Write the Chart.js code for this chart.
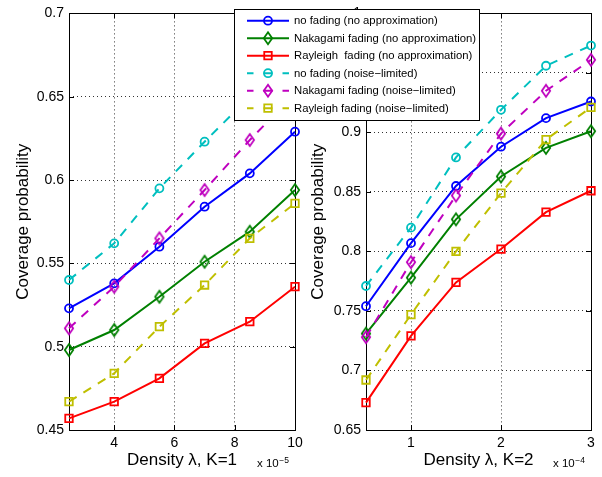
<!DOCTYPE html>
<html><head><meta charset="utf-8">
<script src="https://cdn.jsdelivr.net/npm/chart.js@4.4.1/dist/chart.umd.min.js"></script>
<style>
html,body{margin:0;padding:0;background:#fff;}
#wrap{position:relative;width:602px;height:477px;overflow:hidden;}
canvas{position:absolute;left:0;top:0;}
</style>
</head><body>
<div id="wrap"><canvas id="c1" width="602" height="477"></canvas><canvas id="c2" width="602" height="477"></canvas></div>
<script>
// ---------- data ----------
const seriesNames = [
  'no fading (no approximation)',
  'Nakagami fading (no approximation)',
  'Rayleigh  fading (no approximation)',
  'no fading (noise\u2212limited)',
  'Nakagami fading (noise\u2212limited)',
  'Rayleigh fading (noise\u2212limited)'
];

// Left panel, K=1 (density in units of 1e-5)
const densityK1 = [2.5, 4, 5.5, 7, 8.5, 10];
const k1NoFading       = [0.523, 0.538, 0.560, 0.584, 0.604, 0.629];
const k1Nakagami       = [0.498, 0.510, 0.530, 0.551, 0.569, 0.594];
const k1Rayleigh       = [0.457, 0.467, 0.481, 0.502, 0.515, 0.536];
const k1NoFadingNL     = [0.540, 0.562, 0.595, 0.623, 0.650, 0.676];
const k1NakagamiNL     = [0.511, 0.536, 0.565, 0.594, 0.624, 0.652];
const k1RayleighNL     = [0.467, 0.484, 0.512, 0.537, 0.565, 0.586];
const k1XTicks = [4, 6, 8, 10];
const k1YTicks = [0.45, 0.5, 0.55, 0.6, 0.65, 0.7];

// Right panel, K=2 (density in units of 1e-4)
const densityK2 = [0.5, 1, 1.5, 2, 2.5, 3];
const k2NoFading       = [0.754, 0.807, 0.855, 0.888, 0.912, 0.926];
const k2Nakagami       = [0.731, 0.778, 0.827, 0.863, 0.887, 0.901];
const k2Rayleigh       = [0.673, 0.729, 0.774, 0.802, 0.833, 0.851];
const k2NoFadingNL     = [0.771, 0.820, 0.879, 0.919, 0.956, 0.973];
const k2NakagamiNL     = [0.728, 0.791, 0.847, 0.899, 0.935, 0.961];
const k2RayleighNL     = [0.692, 0.747, 0.800, 0.849, 0.894, 0.921];
const k2XTicks = [1, 2, 3];
const k2YTicks = [0.65, 0.7, 0.75, 0.8, 0.85, 0.9, 0.95, 1];

// ---------- styles ----------
const seriesColors  = ['#0000ff', '#008000', '#ff0000', '#00bfbf', '#bf00bf', '#bfbf00'];
const seriesMarkers = ['circle', 'diamond', 'square', 'circle', 'diamond', 'square'];
const seriesDashed  = [false, false, false, true, true, true];
const FONT = "'Liberation Sans', Arial, Helvetica, sans-serif";
const DASH = [9, 8];

function diamondCanvas(color) {
  const c = document.createElement('canvas');
  c.width = 14; c.height = 18;
  const g = c.getContext('2d');
  g.strokeStyle = color; g.lineWidth = 1.8;
  g.beginPath();
  g.moveTo(7, 9 - 6); g.lineTo(7 + 4.2, 9); g.lineTo(7, 9 + 6); g.lineTo(7 - 4.2, 9); g.closePath();
  g.stroke();
  return c;
}
function pointStyleFor(i) {
  const m = seriesMarkers[i];
  if (m === 'circle') return {style: 'circle', r: 4};
  if (m === 'square') return {style: 'rect', r: 5.3};
  return {style: diamondCanvas(seriesColors[i]), r: 6};
}

function fmt(v) { return String(+(+v).toFixed(2)); }

const boxPlugin = {
  id: 'box',
  beforeDatasetsDraw(chart) {
    const {ctx, chartArea: a, scales} = chart;
    ctx.save();
    ctx.strokeStyle = '#000'; ctx.lineWidth = 1;
    ctx.strokeRect(Math.round(a.left) + 0.5, Math.round(a.top) + 0.5, Math.round(a.right - a.left), Math.round(a.bottom - a.top));
    ctx.beginPath();
    scales.x.ticks.forEach(t => {
      const x = Math.round(scales.x.getPixelForValue(t.value)) + 0.5;
      ctx.moveTo(x, a.bottom); ctx.lineTo(x, a.bottom - 5);
      ctx.moveTo(x, a.top); ctx.lineTo(x, a.top + 5);
    });
    scales.y.ticks.forEach(t => {
      const y = Math.round(scales.y.getPixelForValue(t.value)) + 0.5;
      ctx.moveTo(a.left, y); ctx.lineTo(a.left + 5, y);
      ctx.moveTo(a.right, y); ctx.lineTo(a.right - 5, y);
    });
    ctx.stroke();
    ctx.restore();
  }
};

function expPlugin(exp) {
  return {
    id: 'exp',
    afterDraw(chart) {
      const {ctx, chartArea: a} = chart;
      ctx.save();
      ctx.fillStyle = '#000';
      ctx.textBaseline = 'alphabetic';
      ctx.textAlign = 'left';
      ctx.font = '11.5px ' + FONT;
      const base = 'x 10';
      const w = ctx.measureText(base).width;
      const x0 = a.right - 38;
      ctx.fillText(base, x0, 466.5);
      ctx.font = '8.5px ' + FONT;
      ctx.fillText(exp, x0 + w + 0.5, 462.5);
      ctx.restore();
    }
  };
}

function drawLegendMarker(ctx, i, x, y) {
  ctx.save();
  ctx.strokeStyle = seriesColors[i];
  ctx.lineWidth = 1.8;
  ctx.setLineDash([]);
  ctx.beginPath();
  const m = seriesMarkers[i];
  if (m === 'circle') ctx.arc(x, y, 4, 0, Math.PI * 2);
  else if (m === 'square') ctx.rect(x - 3.75, y - 3.75, 7.5, 7.5);
  else { ctx.moveTo(x, y - 6); ctx.lineTo(x + 4.2, y); ctx.lineTo(x, y + 6); ctx.lineTo(x - 4.2, y); ctx.closePath(); }
  ctx.stroke();
  ctx.restore();
}

const legendPlugin = {
  id: 'legendBox',
  afterDraw(chart) {
    const ctx = chart.ctx;
    const L = 234.5, T = 9.5, R = 479.5, B = 120.5;
    ctx.save();
    ctx.fillStyle = '#fff';
    ctx.fillRect(L, T, R - L, B - T);
    ctx.strokeStyle = '#000'; ctx.lineWidth = 1;
    ctx.strokeRect(L, T, R - L, B - T);
    for (let i = 0; i < seriesNames.length; i++) {
      const y = 20.7 + i * 17.5;
      ctx.strokeStyle = seriesColors[i];
      ctx.lineWidth = 2;
      ctx.beginPath();
      if (seriesDashed[i]) {
        ctx.moveTo(247, y); ctx.lineTo(253.5, y);
        ctx.moveTo(263.5, y); ctx.lineTo(272.5, y);
        ctx.moveTo(282.5, y); ctx.lineTo(289, y);
      } else {
        ctx.moveTo(247, y); ctx.lineTo(289, y);
      }
      ctx.stroke();
      drawLegendMarker(ctx, i, 268, y);
      ctx.fillStyle = '#000';
      ctx.font = '11.3px ' + FONT;
      ctx.textBaseline = 'middle';
      ctx.textAlign = 'left';
      ctx.fillText(seriesNames[i], 294, y + 0.5);
    }
    ctx.restore();
  }
};

function makePanel(id, xs, series, xTicks, yTicks, xmin, xmax, ymin, ymax, pad, yWidth, yTitlePad, xTitle, exp, extra) {
  const datasets = series.map((vals, i) => {
    const ps = pointStyleFor(i);
    return {
      label: seriesNames[i],
      data: xs.map((x, k) => ({x: x, y: vals[k]})),
      borderColor: seriesColors[i],
      backgroundColor: 'rgba(0,0,0,0)',
      borderWidth: 2,
      borderDash: seriesDashed[i] ? DASH : [],
      pointStyle: ps.style,
      pointRadius: ps.r,
      pointBorderWidth: 1.8,
      pointBorderColor: seriesColors[i],
      pointBackgroundColor: 'rgba(0,0,0,0)',
      tension: 0,
      clip: false,
      order: series.length - i
    };
  });
  const tickFont = {family: FONT, size: 14};
  return new Chart(document.getElementById(id), {
    type: 'line',
    data: {datasets},
    options: {
      responsive: false,
      animation: false,
      devicePixelRatio: 1,
      layout: {padding: pad},
      plugins: {legend: {display: false}, tooltip: {enabled: false}},
      scales: {
        x: {
          type: 'linear', min: xmin, max: xmax,
          afterBuildTicks: s => { s.ticks = xTicks.map(v => ({value: v})); },
          afterFit: s => { s.height = 47; },
          ticks: {color: '#000', font: tickFont, padding: 5, maxRotation: 0, autoSkip: false, callback: v => fmt(v)},
          grid: {color: 'rgba(0,0,0,0.8)', lineWidth: 1, drawTicks: false},
          border: {display: false, dash: [1, 3]},
          title: {display: true, text: xTitle, color: '#000', font: {family: FONT, size: 17}, padding: {top: 0, bottom: 6}}
        },
        y: {
          type: 'linear', min: ymin, max: ymax,
          afterBuildTicks: s => { s.ticks = yTicks.map(v => ({value: v})); },
          afterFit: s => { s.width = yWidth; },
          ticks: {color: '#000', font: tickFont, padding: 5, autoSkip: false, callback: v => fmt(v)},
          grid: {color: 'rgba(0,0,0,0.8)', lineWidth: 1, drawTicks: false},
          border: {display: false, dash: [1, 3]},
          title: {display: true, text: 'Coverage probability', color: '#000', font: {family: FONT, size: 17}, padding: {top: yTitlePad, bottom: 0}}
        }
      }
    },
    plugins: [boxPlugin, expPlugin(exp)].concat(extra)
  });
}

makePanel('c1', densityK1,
  [k1NoFading, k1Nakagami, k1Rayleigh, k1NoFadingNL, k1NakagamiNL, k1RayleighNL],
  k1XTicks, k1YTicks, 2.5, 10, 0.45, 0.7,
  {left: 0, right: 307, top: 10, bottom: 0}, 69, 13,
  'Density \u03bb, K=1', '\u22125', []);

makePanel('c2', densityK2,
  [k2NoFading, k2Nakagami, k2Rayleigh, k2NoFadingNL, k2NakagamiNL, k2RayleighNL],
  k2XTicks, k2YTicks, 0.5, 3, 0.65, 1.0,
  {left: 300, right: 11, top: 10, bottom: 0}, 66, 8,
  'Density \u03bb, K=2', '\u22124', [legendPlugin]);
</script>
</body></html>
